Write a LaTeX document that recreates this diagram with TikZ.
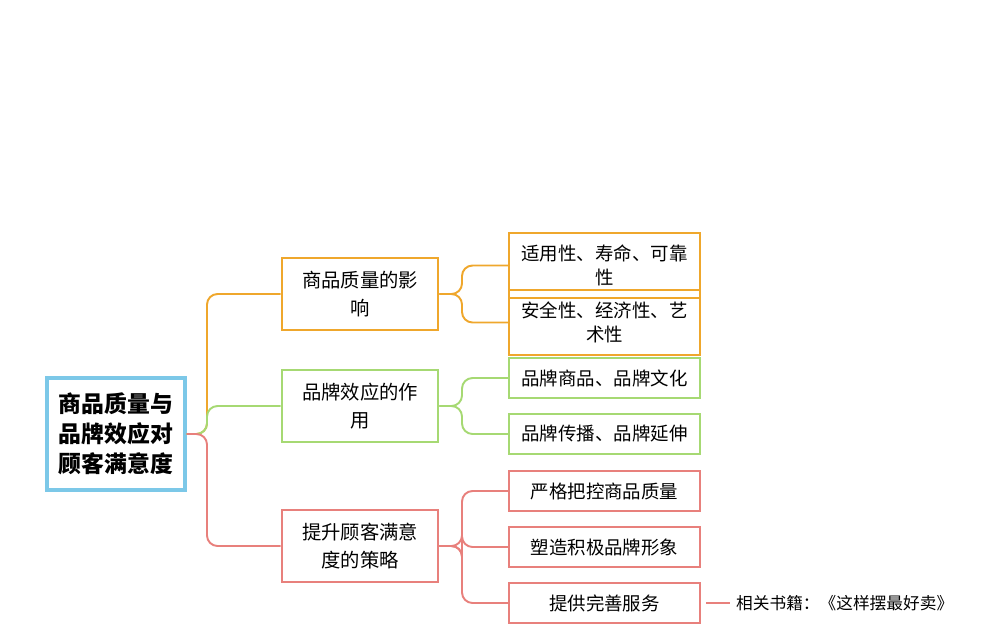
\documentclass[tikz,border=0pt]{standalone}
\usepackage{fontspec}
\setmainfont{Noto Sans CJK SC}
\definecolor{cblue}{HTML}{7CC8E8}
\definecolor{corange}{HTML}{EFA72C}
\definecolor{cgreen}{HTML}{A6D973}
\definecolor{cred}{HTML}{E8807C}
\tikzset{
  rootbox/.style={draw=cblue,line width=2pt,minimum width=2.76cm,minimum height=2.24cm,
    text width=2.5cm,align=center,font=\fontsize{13}{17}\selectfont\bfseries},
  midbox/.style={draw=#1,line width=1.6pt,minimum width=3.12cm,minimum height=1.44cm,
    text width=2.8cm,align=center,font=\fontsize{11}{16}\selectfont},
  leafbox/.style={draw=#1,line width=1.3pt,minimum width=3.82cm,
    text width=3.5cm,align=center,font=\fontsize{10.5}{14}\selectfont},
  link/.style={draw=#1,line width=1.1pt,rounded corners=6pt}
}
\begin{document}
\begin{tikzpicture}[x=0.02cm,y=-0.02cm]
\useasboundingbox (0,0) rectangle (1000,640);
% root and main branches
\node[rootbox] (root) at (116,434) {商品质量与\\品牌效应对\\顾客满意度};
\node[midbox=corange] (q) at (360,294) {商品质量的影\\响};
\node[midbox=cgreen] (b) at (360,406) {品牌效应的作\\用};
\node[midbox=cred] (s) at (360,546) {提升顾客满意\\度的策略};
% leaves
\node[leafbox=corange,minimum height=1.3cm] (q1) at (604.5,265.5) {适用性、寿命、可靠\\性};
\node[leafbox=corange,minimum height=1.3cm] (q2) at (604.5,322.5) {安全性、经济性、艺\\术性};
\node[leafbox=cgreen,minimum height=0.8cm] (b1) at (604.5,378) {品牌商品、品牌文化};
\node[leafbox=cgreen,minimum height=0.8cm] (b2) at (604.5,434) {品牌传播、品牌延伸};
\node[leafbox=cred,minimum height=0.8cm] (s1) at (604.5,491) {严格把控商品质量};
\node[leafbox=cred,minimum height=0.8cm] (s2) at (604.5,547) {塑造积极品牌形象};
\node[leafbox=cred,minimum height=0.8cm] (s3) at (604.5,603) {提供完善服务};
\node[font=\fontsize{9.5}{12}\selectfont,anchor=west] (note) at (730,603) {相关书籍：《这样摆最好卖》};
% connectors
\draw[link=corange] (root.east) -- (207,434) |- (q.west);
\draw[link=cgreen] (root.east) -- (207,434) |- (b.west);
\draw[link=cred] (root.east) -- (207,434) |- (s.west);
\foreach \n in {q1,q2} \draw[link=corange] (q.east) -- (462,294) |- (\n.west);
\foreach \n in {b1,b2} \draw[link=cgreen] (b.east) -- (462,406) |- (\n.west);
\foreach \n in {s1,s2,s3} \draw[link=cred] (s.east) -- (462,546) |- (\n.west);
\draw[cred,line width=1pt] (s3.east) ++(5,0) -- (note.west);
\end{tikzpicture}
\end{document}
